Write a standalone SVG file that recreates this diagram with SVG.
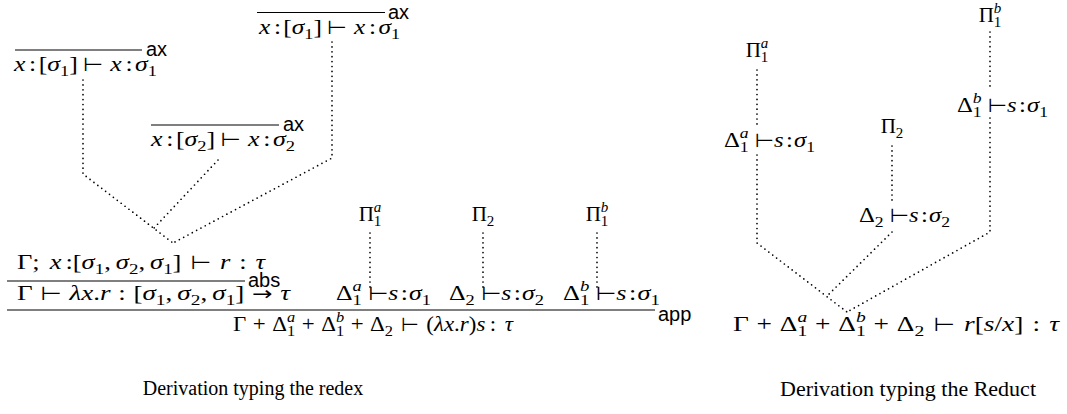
<svg xmlns="http://www.w3.org/2000/svg" width="1067" height="414" viewBox="0 0 1067 414">
<style>
.m{font-family:"Liberation Serif","Times New Roman",serif;font-size:21px;fill:#000}
.i{font-style:italic}
.s{font-size:15px}
.op{font-family:"DejaVu Sans",sans-serif;font-size:19px;font-style:normal}
.lbl{font-family:"Liberation Sans","DejaVu Sans",sans-serif;font-size:20px;fill:#000}
.cap{font-family:"Liberation Serif","Times New Roman",serif;fill:#000}
.rule{stroke:#000;stroke-width:1.1}
.dot{fill:none;stroke:#000;stroke-width:1.7;stroke-linecap:round;stroke-dasharray:0 4.9}
</style>
<rect width="1067" height="414" fill="#fff"/>
<g id="connectors">
<polyline class="dot" points="332,42 332,158 173,243"/>
<polyline class="dot" points="83,80 83,174 173,243"/>
<polyline class="dot" points="218,160 154,228"/>
<line class="dot" x1="370" y1="233" x2="370" y2="288"/>
<line class="dot" x1="483" y1="233" x2="483" y2="288"/>
<line class="dot" x1="597" y1="233" x2="597" y2="288"/>
<line class="dot" x1="757" y1="70" x2="757" y2="126"/>
<polyline class="dot" points="757,155 757,243 847,312"/>
<line class="dot" x1="990" y1="32" x2="990" y2="88"/>
<polyline class="dot" points="990,118 990,232 847,312"/>
<line class="dot" x1="892" y1="146" x2="892" y2="200"/>
<line class="dot" x1="892" y1="232" x2="826" y2="297"/>
</g>
<g id="ax-top">
<line class="rule" x1="257" y1="12.5" x2="385" y2="12.5"/>
<text class="lbl" x="388" y="19">ax</text>
<text class="m" x="259" y="34" textLength="141" lengthAdjust="spacingAndGlyphs"><tspan class="i">x</tspan><tspan dx="3">:</tspan><tspan dx="2">[</tspan><tspan class="i">σ</tspan><tspan class="s" dy="5">1</tspan><tspan dy="-5">]</tspan><tspan class="op" dx="4">⊢</tspan><tspan class="i" dx="6">x</tspan><tspan dx="3">:</tspan><tspan class="i" dx="2">σ</tspan><tspan class="s" dy="5">1</tspan></text>
</g>
<g id="ax-left">
<line class="rule" x1="15" y1="50" x2="142" y2="50"/>
<text class="lbl" x="146" y="56">ax</text>
<text class="m" x="14" y="71" textLength="143" lengthAdjust="spacingAndGlyphs"><tspan class="i">x</tspan><tspan dx="3">:</tspan><tspan dx="2">[</tspan><tspan class="i">σ</tspan><tspan class="s" dy="5">1</tspan><tspan dy="-5">]</tspan><tspan class="op" dx="4">⊢</tspan><tspan class="i" dx="6">x</tspan><tspan dx="3">:</tspan><tspan class="i" dx="2">σ</tspan><tspan class="s" dy="5">1</tspan></text>
</g>
<g id="ax-mid">
<line class="rule" x1="151" y1="125" x2="279" y2="125"/>
<text class="lbl" x="283" y="131">ax</text>
<text class="m" x="151" y="146" textLength="144" lengthAdjust="spacingAndGlyphs"><tspan class="i">x</tspan><tspan dx="3">:</tspan><tspan dx="2">[</tspan><tspan class="i">σ</tspan><tspan class="s" dy="5">2</tspan><tspan dy="-5">]</tspan><tspan class="op" dx="4">⊢</tspan><tspan class="i" dx="6">x</tspan><tspan dx="3">:</tspan><tspan class="i" dx="2">σ</tspan><tspan class="s" dy="5">2</tspan></text>
</g>
<g id="abs">
<text class="m" x="17" y="269" textLength="248" lengthAdjust="spacingAndGlyphs">Γ;<tspan class="i" dx="8">x</tspan><tspan dx="3">:[</tspan><tspan class="i">σ</tspan><tspan class="s" dy="5">1</tspan><tspan dy="-5">,</tspan><tspan class="i" dx="4">σ</tspan><tspan class="s" dy="5">2</tspan><tspan dy="-5">,</tspan><tspan class="i" dx="4">σ</tspan><tspan class="s" dy="5">1</tspan><tspan dy="-5">]</tspan><tspan class="op" dx="7">⊢</tspan><tspan class="i" dx="7">r</tspan><tspan dx="7">:</tspan><tspan class="i" dx="7">τ</tspan></text>
<line class="rule" x1="7" y1="281" x2="245" y2="281"/>
<text class="lbl" x="248" y="287">abs</text>
<text class="m" x="17" y="300" textLength="273" lengthAdjust="spacingAndGlyphs">Γ<tspan class="op" dx="6">⊢</tspan><tspan class="i" dx="6">λx</tspan>.<tspan class="i">r</tspan><tspan dx="6">:</tspan><tspan dx="6">[</tspan><tspan class="i">σ</tspan><tspan class="s" dy="5">1</tspan><tspan dy="-5">,</tspan><tspan class="i" dx="4">σ</tspan><tspan class="s" dy="5">2</tspan><tspan dy="-5">,</tspan><tspan class="i" dx="4">σ</tspan><tspan class="s" dy="5">1</tspan><tspan dy="-5">]</tspan><tspan class="op" dx="6">→</tspan><tspan class="i" dx="6">τ</tspan></text>
</g>
<g id="pi1a-left">
<text class="m" x="370" y="221" text-anchor="middle">Π<tspan class="s i" dy="-9">a</tspan><tspan class="s" dx="-7.5" dy="14">1</tspan></text>
<text class="m" x="336" y="300" textLength="95" lengthAdjust="spacingAndGlyphs">Δ<tspan class="s i" dy="-9">a</tspan><tspan class="s" dx="-7.5" dy="14">1</tspan><tspan class="op" dy="-5" dx="5">⊢</tspan><tspan class="i">s</tspan><tspan dx="2">:</tspan><tspan class="i" dx="1">σ</tspan><tspan class="s" dy="5">1</tspan></text>
</g>
<g id="pi2-left">
<text class="m" x="483" y="221" text-anchor="middle">Π<tspan class="s" dy="5">2</tspan></text>
<text class="m" x="449" y="300" textLength="95" lengthAdjust="spacingAndGlyphs">Δ<tspan class="s" dy="5">2</tspan><tspan class="op" dy="-5" dx="5">⊢</tspan><tspan class="i">s</tspan><tspan dx="2">:</tspan><tspan class="i" dx="1">σ</tspan><tspan class="s" dy="5">2</tspan></text>
</g>
<g id="pi1b-left">
<text class="m" x="597" y="221" text-anchor="middle">Π<tspan class="s i" dy="-9">b</tspan><tspan class="s" dx="-7.5" dy="14">1</tspan></text>
<text class="m" x="563" y="300" textLength="97" lengthAdjust="spacingAndGlyphs">Δ<tspan class="s i" dy="-9">b</tspan><tspan class="s" dx="-7.5" dy="14">1</tspan><tspan class="op" dy="-5" dx="5">⊢</tspan><tspan class="i">s</tspan><tspan dx="2">:</tspan><tspan class="i" dx="1">σ</tspan><tspan class="s" dy="5">1</tspan></text>
</g>
<g id="app">
<line class="rule" x1="7" y1="310" x2="655" y2="310"/>
<text class="lbl" x="658" y="321">app</text>
<text class="m" x="233" y="331" textLength="280" lengthAdjust="spacingAndGlyphs">Γ<tspan dx="6">+</tspan><tspan dx="6">Δ</tspan><tspan class="s i" dy="-9">a</tspan><tspan class="s" dx="-7.5" dy="14">1</tspan><tspan dx="6" dy="-5">+</tspan><tspan dx="6">Δ</tspan><tspan class="s i" dy="-9">b</tspan><tspan class="s" dx="-7.5" dy="14">1</tspan><tspan dx="6" dy="-5">+</tspan><tspan dx="6">Δ</tspan><tspan class="s" dy="5">2</tspan><tspan class="op" dx="7" dy="-5">⊢</tspan><tspan dx="7">(</tspan><tspan class="i">λx</tspan>.<tspan class="i">r</tspan>)<tspan class="i">s</tspan><tspan dx="4">:</tspan><tspan class="i" dx="8">τ</tspan></text>
</g>
<g id="caption-left">
<text class="cap" x="253" y="395" font-size="20" text-anchor="middle">Derivation typing the redex</text>
</g>
<g id="pi1a-right">
<text class="m" x="757" y="57" text-anchor="middle">Π<tspan class="s i" dy="-9">a</tspan><tspan class="s" dx="-7.5" dy="14">1</tspan></text>
<text class="m" x="724" y="147" textLength="91" lengthAdjust="spacingAndGlyphs">Δ<tspan class="s i" dy="-9">a</tspan><tspan class="s" dx="-7.5" dy="14">1</tspan><tspan class="op" dy="-5" dx="5">⊢</tspan><tspan class="i">s</tspan><tspan dx="2">:</tspan><tspan class="i" dx="1">σ</tspan><tspan class="s" dy="5">1</tspan></text>
</g>
<g id="pi1b-right">
<text class="m" x="990" y="22" text-anchor="middle">Π<tspan class="s i" dy="-9">b</tspan><tspan class="s" dx="-7.5" dy="14">1</tspan></text>
<text class="m" x="957" y="112" textLength="91" lengthAdjust="spacingAndGlyphs">Δ<tspan class="s i" dy="-9">b</tspan><tspan class="s" dx="-7.5" dy="14">1</tspan><tspan class="op" dy="-5" dx="5">⊢</tspan><tspan class="i">s</tspan><tspan dx="2">:</tspan><tspan class="i" dx="1">σ</tspan><tspan class="s" dy="5">1</tspan></text>
</g>
<g id="pi2-right">
<text class="m" x="892" y="133" text-anchor="middle">Π<tspan class="s" dy="5">2</tspan></text>
<text class="m" x="859" y="222" textLength="91" lengthAdjust="spacingAndGlyphs">Δ<tspan class="s" dy="5">2</tspan><tspan class="op" dy="-5" dx="5">⊢</tspan><tspan class="i">s</tspan><tspan dx="2">:</tspan><tspan class="i" dx="1">σ</tspan><tspan class="s" dy="5">2</tspan></text>
</g>
<g id="reduct">
<text class="m" x="733" y="331" textLength="326" lengthAdjust="spacingAndGlyphs">Γ<tspan dx="6">+</tspan><tspan dx="6">Δ</tspan><tspan class="s i" dy="-9">a</tspan><tspan class="s" dx="-7.5" dy="14">1</tspan><tspan dx="6" dy="-5">+</tspan><tspan dx="6">Δ</tspan><tspan class="s i" dy="-9">b</tspan><tspan class="s" dx="-7.5" dy="14">1</tspan><tspan dx="6" dy="-5">+</tspan><tspan dx="6">Δ</tspan><tspan class="s" dy="5">2</tspan><tspan class="op" dx="7" dy="-5">⊢</tspan><tspan class="i" dx="7">r</tspan>[<tspan class="i">s</tspan>/<tspan class="i">x</tspan>]<tspan dx="7">:</tspan><tspan class="i" dx="7">τ</tspan></text>
</g>
<g id="caption-right">
<text class="cap" x="908" y="396" font-size="22" text-anchor="middle">Derivation typing the Reduct</text>
</g>
</svg>
